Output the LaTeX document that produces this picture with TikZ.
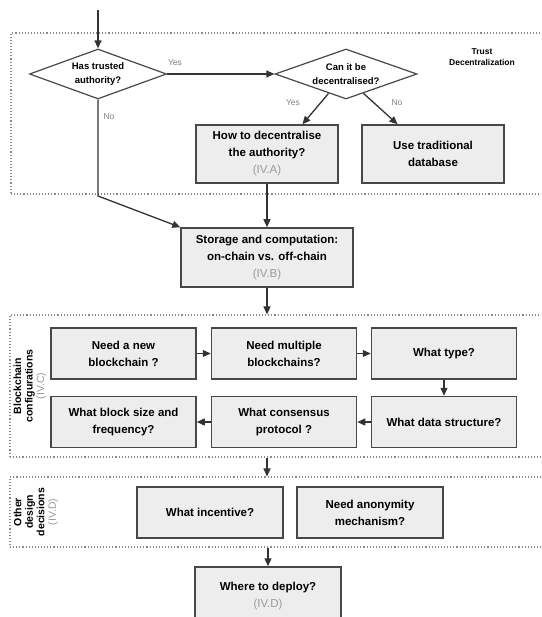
\documentclass[tikz,border=0pt]{standalone}
\usepackage{fontspec}
\setmainfont{Liberation Sans}
\usetikzlibrary{shapes.geometric,arrows.meta,calc}
\definecolor{boxfill}{HTML}{EDEDED}
\definecolor{boxline}{HTML}{484848}
\definecolor{reftxt}{HTML}{9A9A9A}
\definecolor{grpline}{HTML}{8A8A8A}
\begin{document}
\begin{tikzpicture}[x=1pt,y=-1pt,
  box/.style={draw=boxline, fill=boxfill, line width=1.5pt, minimum width=145pt, minimum height=51pt, align=center, inner sep=0pt, font=\fontsize{11.5}{17}\selectfont\bfseries},
  dia/.style={diamond, draw=boxline, line width=1.2pt, aspect=2.7, inner sep=0pt, minimum width=137pt, minimum height=50pt, align=center, font=\fontsize{9.5}{14}\selectfont\bfseries},
  grp/.style={draw=grpline, line width=1.1pt, dash pattern=on 1.1pt off 2pt, inner sep=0pt},
  arr/.style={draw=black!80, line width=1.3pt, -{Triangle[length=8pt,width=7pt]}},
  yn/.style={text=gray, font=\fontsize{8.5}{10}\selectfont},
  grplab/.style={align=center, font=\fontsize{8.5}{11}\selectfont\bfseries},
  sidelab/.style={align=center, rotate=90, font=\fontsize{10.5}{11.5}\selectfont\bfseries}
]
\useasboundingbox (0,0) rectangle (541,617);
\clip (0,0) rectangle (541,617);

% group frames
\node[grp, minimum width=550pt, minimum height=161pt] (g1) at (286,113.5) {};
\node[grp, minimum width=550pt, minimum height=142pt] (g2) at (285,386) {};
\node[grp, minimum width=550pt, minimum height=70pt] (g3) at (285,512) {};

\node[grplab] (t1) at (482,57) {Trust\\Decentralization};
\node[sidelab] (t2) at (30,386) {Blockchain\\configurations\\{\color{reftxt}\mdseries (IV.C)}};
\node[sidelab] (t3) at (36,512) {Other\\design\\decisions\\{\color{reftxt}\mdseries (IV.D)}};

% decisions
\coordinate (start) at (98,10);
\node[dia] (d1) at (98,74) {Has trusted\\authority?};
\node[dia, minimum width=142pt] (d2) at (346,74) {Can it be\\decentralised?};

\node[box, minimum width=142pt, minimum height=58pt] (a) at (267,154) {How to decentralise\\the authority?\\{\color{reftxt}\mdseries (IV.A)}};
\node[box, minimum width=142pt, minimum height=58pt] (b) at (433,154) {Use traditional\\database};

\node[box, minimum width=172pt, minimum height=59pt] (s) at (267,257.5) {Storage and computation:\\on-chain vs. off-chain\\{\color{reftxt}\mdseries (IV.B)}};

% blockchain configurations
\node[box] (c1) at (123.5,353.5) {Need a new\\blockchain ?};
\node[box] (c2) at (284,353.5) {Need multiple\\blockchains?};
\node[box] (c3) at (444,353.5) {What type?};
\node[box] (c4) at (123.5,422) {What block size and\\frequency?};
\node[box] (c5) at (284,422) {What consensus\\protocol ?};
\node[box] (c6) at (444,422) {What data structure?};

% other design decisions
\node[box, minimum width=146pt] (o1) at (210,512.5) {What incentive?};
\node[box, minimum width=146pt] (o2) at (370,512.5) {Need anonymity\\mechanism?};

\node[box, minimum width=146pt, minimum height=58pt] (dep) at (268,596) {Where to deploy?\\{\color{reftxt}\mdseries (IV.D)}};

% labels
\node[yn] (y1) at (175,63) {Yes};
\node[yn] (n1) at (109,117) {No};
\node[yn] (y2) at (293,103) {Yes};
\node[yn] (n2) at (397,103) {No};

% connectors
\coordinate (bend) at (98,196);
\draw[arr] (start) -- (d1.north);
\draw[arr] (d1.east) -- (d2.west);
\draw[arr] (d2.-132) -- (a.40);
\draw[arr] (d2.-48) -- (b.140);
\draw[arr] (d1.south) -- (bend) -- (s.north west);
\draw[arr] (a.south) -- (s.north);
\draw[arr] (s.south) -- (s.south |- g2.north);
\draw[arr] (c1.east) -- (c2.west);
\draw[arr] (c2.east) -- (c3.west);
\draw[arr] (c3.south) -- (c6.north);
\draw[arr] (c6.west) -- (c5.east);
\draw[arr] (c5.west) -- (c4.east);
\draw[arr] (s.south |- g2.south) -- (s.south |- g3.north);
\draw[arr] (dep.north |- g3.south) -- (dep.north);
\end{tikzpicture}
\end{document}
